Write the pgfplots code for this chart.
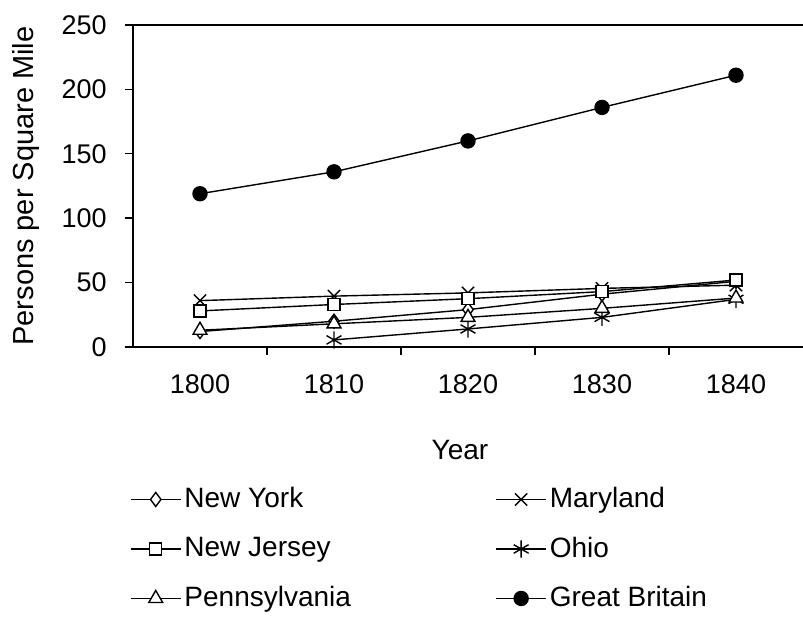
\documentclass[border=0pt]{standalone}
\usepackage{fontspec}
\setmainfont{Liberation Sans}
\usepackage{pgfplots}
\pgfplotsset{compat=1.18}
\begin{document}
\fontsize{14}{17}\selectfont
\begin{tikzpicture}
\begin{axis}[
  name=ax,
  scale only axis, width=335pt, height=161pt,
  xmin=-0.5, xmax=4.5, ymin=0, ymax=250,
  axis x line*=box, axis y line*=left,
  xtick pos=bottom, ytick pos=left,
  tick align=outside, major tick length=4pt, minor tick length=4pt,
  xtick={0,1,2,3,4}, xticklabels={1800,1810,1820,1830,1840},
  minor xtick={0.5,1.5,2.5,3.5},
  major x tick style={draw=none},
  ytick={0,50,100,150,200,250},
  tick style={black, line width=0.7pt},
  axis line style={line width=0.7pt},
  /pgf/number format/assume math mode=true,
  tick label style={font=\fontsize{13.5}{16}\selectfont},
  yticklabel style={xshift=-4.3pt},
  xticklabel style={yshift=-5pt},
  ylabel={Persons per Square Mile},
  ylabel style={at={(axis description cs:-0.1597,0.5)}, anchor=center, font=\fontsize{14.5}{17}\selectfont},
  xlabel={Year},
  xlabel style={at={(axis description cs:0.488,-0.32)}, anchor=center, font=\fontsize{14}{17}\selectfont},
  legend style={draw=none, fill=none, at={(axis description cs:-0.005,-0.425)}, anchor=north west,
    font=\fontsize{14}{17}\selectfont, row sep=9.5pt, inner sep=0pt,
    nodes={inner sep=1.5pt}},
  legend columns=2,
  legend cell align=left,
  legend image code/.code={\draw[mark repeat=2,mark phase=2,#1] plot coordinates {(0pt,0pt) (12.5pt,0pt) (25pt,0pt)};},
]
\addplot[black, solid, line width=0.7pt, mark size=3.5pt, mark=diamond*, mark options={fill=white, solid}] coordinates {(0,12) (1,20) (2,29) (3,41) (4,51)};
\addlegendentry{\makebox[154pt][l]{New York}}
\addplot[black, solid, line width=0.7pt, mark size=4.3pt, mark=x, mark options={solid}] coordinates {(0,36) (1,39.5) (2,42) (3,45.5) (4,48)};
\addlegendentry{Maryland}
\addplot[black, solid, line width=0.7pt, mark size=3pt, mark=square*, mark options={fill=white, solid}] coordinates {(0,28) (1,33) (2,37.5) (3,43) (4,52)};
\addlegendentry{\makebox[154pt][l]{New Jersey}}
\addplot[black, solid, line width=0.7pt, mark size=4.3pt, mark=asterisk, mark options={solid}] coordinates {(1,5.5) (2,14) (3,23) (4,37)};
\addlegendentry{Ohio}
\addplot[black, solid, line width=0.7pt, mark size=4pt, mark=triangle*, mark options={fill=white, solid}] coordinates {(0,13) (1,18) (2,23) (3,30) (4,38)};
\addlegendentry{\makebox[154pt][l]{Pennsylvania}}
\addplot[black, solid, line width=0.7pt, mark size=3.5pt, mark=*, mark options={fill=black, solid}] coordinates {(0,119) (1,136) (2,160) (3,186) (4,211)};
\addlegendentry{Great Britain}
\end{axis}
\pgfresetboundingbox
\path ([xshift=-66.5pt,yshift=-135.5pt]ax.south west) rectangle ([yshift=12.5pt]ax.north east);
\end{tikzpicture}
\end{document}
